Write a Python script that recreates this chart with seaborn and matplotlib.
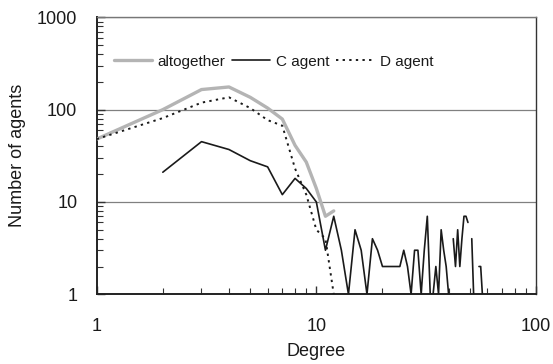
import numpy as np
import pandas as pd
import matplotlib
matplotlib.use("Agg")
import matplotlib.pyplot as plt
from matplotlib.ticker import LogLocator, FixedLocator, FixedFormatter, NullFormatter
from matplotlib.lines import Line2D
import seaborn as sns

# ---- data ----
degree_all = [1, 2, 3, 4, 5, 6, 7, 8, 9, 10, 11, 12]
altogether = [48, 100, 165, 176, 136, 104, 79, 41, 27, 14, 7, 8]

degree_d = [1, 2, 3, 4, 5, 6, 7, 8, 9, 10, 11, 12]
d_agent = [48, 81, 119, 136, 104, 77, 67, 23, 12, 5, 4, 1]

degree_c = list(range(2, 58))
c_agent = [21, 45, 37, 28, 24, 12, 18, 14, 10, 3, 7, 3, 1, 5, 3, 1, 4, 3, 2, 2,
           2, 2, 2, 3, 2, 1, 3, 3, 1, 3, 7, 1, 1, 2, 1, 5, 3, 2, 1, np.nan,
           4, 2, 5, 2, 4, 7, 7, 6, np.nan, 4, 1, np.nan, np.nan, 2, 2, 1]

x_ticks = [1, 10, 100]
x_tick_labels = ["1", "10", "100"]
y_ticks = [1, 10, 100, 1000]
y_tick_labels = ["1", "10", "100", "1000"]


def segments(xs, ys):
    rows = []
    seg = 0
    prev_nan = False
    for x, y in zip(xs, ys):
        if y is None or (isinstance(y, float) and np.isnan(y)):
            if not prev_nan:
                seg += 1
            prev_nan = True
            continue
        prev_nan = False
        rows.append((x, y, seg))
    return pd.DataFrame(rows, columns=["x", "y", "seg"])


sns.set_style("white")
plt.rcParams["font.family"] = ["Liberation Sans", "DejaVu Sans"]

fig = plt.figure(figsize=(5.53, 3.64), dpi=100)
ax = fig.add_axes([96.7 / 553, 1 - 294.3 / 364, (536 - 96.7) / 553, (294.3 - 17.3) / 364])

ax.set_xscale("log")
ax.set_yscale("log")

df_all = segments(degree_all, altogether)
df_c = segments(degree_c, c_agent)
df_d = segments(degree_d, d_agent)

sns.lineplot(data=df_all, x="x", y="y", units="seg", estimator=None, ax=ax,
             color="#b4b4b4", linewidth=2.4, legend=False, zorder=3)
sns.lineplot(data=df_c, x="x", y="y", units="seg", estimator=None, ax=ax,
             color="#1a1a1a", linewidth=1.2, legend=False, zorder=4)
sns.lineplot(data=df_d, x="x", y="y", units="seg", estimator=None, ax=ax,
             color="#1a1a1a", linewidth=1.4, linestyle=(0, (1.2, 2.2)),
             legend=False, zorder=4)

ax.set_xlim(1, 100)
ax.set_ylim(1, 1000)

ax.xaxis.set_major_locator(FixedLocator(x_ticks))
ax.xaxis.set_major_formatter(FixedFormatter(x_tick_labels))
ax.yaxis.set_major_locator(FixedLocator(y_ticks))
ax.yaxis.set_major_formatter(FixedFormatter(y_tick_labels))
ax.xaxis.set_minor_locator(LogLocator(base=10, subs=np.arange(2, 10)))
ax.yaxis.set_minor_locator(LogLocator(base=10, subs=np.arange(2, 10)))
ax.xaxis.set_minor_formatter(NullFormatter())
ax.yaxis.set_minor_formatter(NullFormatter())

ax.tick_params(axis="x", which="both", direction="in", bottom=True, top=False,
               color="#333333")
ax.tick_params(axis="y", which="both", direction="in", left=True, right=False,
               color="#333333")
ax.tick_params(axis="x", which="major", length=6, width=1.0, labelsize=13,
               pad=17, labelcolor="#1a1a1a")
ax.tick_params(axis="x", which="minor", length=4, width=0.8)
ax.tick_params(axis="y", which="major", length=6, width=1.0, labelsize=13,
               pad=14, labelcolor="#1a1a1a")
ax.tick_params(axis="y", which="minor", length=4, width=0.8)

ax.yaxis.grid(True, which="major", color="#808080", linewidth=0.9)
ax.xaxis.grid(False)
ax.set_axisbelow(True)

for side in ["left", "bottom"]:
    ax.spines[side].set_color("#222222")
    ax.spines[side].set_linewidth(1.4)
ax.spines["top"].set_color("#777777")
ax.spines["top"].set_linewidth(1.0)
ax.spines["right"].set_color("#333333")
ax.spines["right"].set_linewidth(1.0)

ax.set_xlabel("Degree", fontsize=13, color="#1a1a1a", labelpad=6)
ax.set_ylabel("Number of agents", fontsize=13, color="#1a1a1a", labelpad=8)

handles = [
    Line2D([], [], color="#b4b4b4", linewidth=2.4),
    Line2D([], [], color="#1a1a1a", linewidth=1.2),
    Line2D([], [], color="#1a1a1a", linewidth=1.4, linestyle=(0, (1.2, 2.2))),
]
labels = ["altogether", "C agent", "D agent"]
leg = ax.legend(handles, labels, ncol=3, frameon=False, fontsize=11,
                loc="center left", bbox_to_anchor=(114 / 553, 1 - 61.7 / 364),
                bbox_transform=fig.transFigure, borderpad=0, borderaxespad=0,
                handlelength=2.5, handletextpad=0.35, columnspacing=0.45)
for t in leg.get_texts():
    t.set_color("#1a1a1a")

fig.savefig("out.png", dpi=100)
